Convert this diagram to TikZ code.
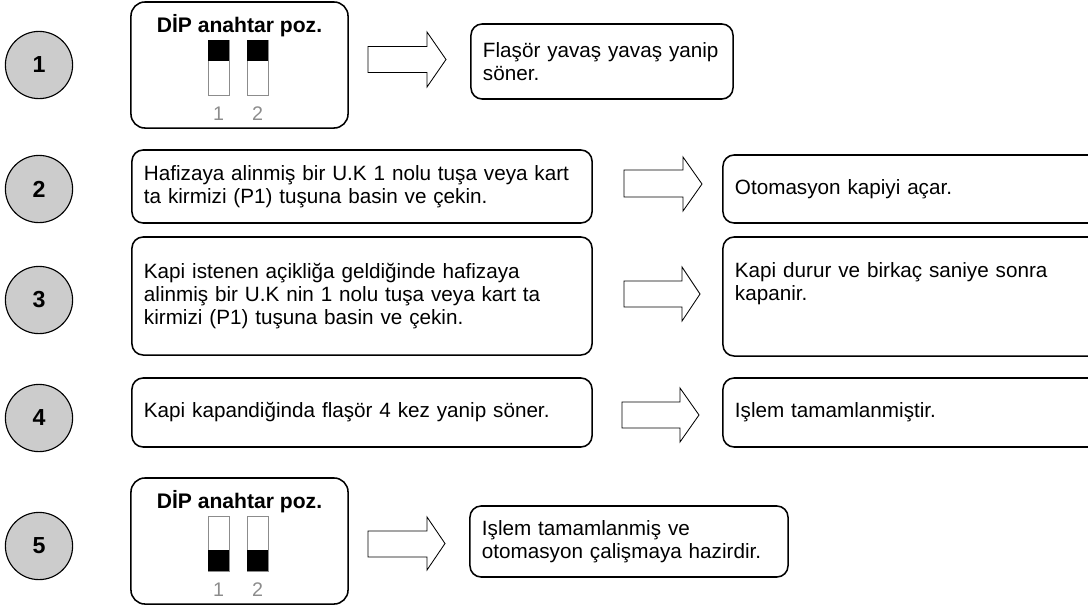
\documentclass[tikz,border=0pt]{standalone}
\usepackage{fontspec}
\setmainfont{Liberation Sans}
\definecolor{numgray}{HTML}{CCCCCC}
\definecolor{swgray}{HTML}{8C8C8C}
\tikzset{
  stepnum/.style={circle,draw,line width=0.8pt,fill=numgray,minimum size=1.68cm,inner sep=0pt,font=\fontsize{16.5}{16.5}\selectfont\bfseries},
  infobox/.style={draw,line width=1.1pt,rounded corners=0.28cm,align=left,inner xsep=0.3cm,inner ysep=0pt,font=\fontsize{14.7}{16.2}\selectfont},
  dipbox/.style={draw,line width=1.1pt,rounded corners=0.35cm,minimum width=5.425cm,minimum height=3.15cm},
  diptitle/.style={inner sep=0pt,font=\fontsize{15}{15}\selectfont\bfseries},
  swnum/.style={inner sep=0pt,text=swgray,font=\fontsize{14}{14}\selectfont},
  dipsw/.style={draw=swgray,line width=0.6pt,fill=white},
  blockarrow/.style={draw,line width=0.6pt,fill=white}
}
\begin{document}
\begin{tikzpicture}[x=0.025cm,y=-0.025cm]
          \useasboundingbox (0,0) rectangle (1088,608);
          % step numbers
          \node[stepnum] (n1) at (39,65) {1};
          \node[stepnum] (n2) at (39,189) {2};
          \node[stepnum] (n3) at (39,300) {3};
          \node[stepnum] (n4) at (39,418) {4};
          \node[stepnum] (n5) at (39,546) {5};
          % dip switch boxes
          \node[dipbox] (dip1) at (239.5,65) {};
          \node[diptitle] (dipt1) at (239.5,26) {DİP anahtar poz.};
          \draw[dipsw] (208,40) rectangle (229,95);
          \fill (208,40) rectangle (229,61);
          \draw[dipsw] (247,40) rectangle (268,95);
          \fill (247,40) rectangle (268,61);
          \node[swnum] (sw11) at (218.5,113.5) {1};
          \node[swnum] (sw12) at (257.5,113.5) {2};
          \node[dipbox] (dip5) at (239.5,541) {};
          \node[diptitle] (dipt5) at (239.5,502) {DİP anahtar poz.};
          \draw[dipsw] (208,516) rectangle (229,571);
          \fill (208,550) rectangle (229,571);
          \draw[dipsw] (247,516) rectangle (268,571);
          \fill (247,550) rectangle (268,571);
          \node[swnum] (sw51) at (218.5,589.5) {1};
          \node[swnum] (sw52) at (257.5,589.5) {2};
          % left boxes
          \node[infobox,text width=10.9cm,minimum height=1.825cm] (act2) at (362,186.5) {Hafizaya alinmiş bir U.K 1 nolu tuşa veya kart\\ta kirmizi (P1) tuşuna basin ve çekin.};
          \node[infobox,text width=10.9cm,minimum height=2.95cm] (act3) at (362,296) {Kapi istenen açikliğa geldiğinde hafizaya\\alinmiş bir U.K nin 1 nolu tuşa veya kart ta\\kirmizi (P1) tuşuna basin ve çekin.};
          \node[infobox,text width=10.9cm,minimum height=1.725cm] (act4) at (362,412.5) {Kapi kapandiğinda flaşör 4 kez yanip söner.};
          % right boxes
          \node[infobox,text width=5.95cm,minimum height=1.875cm] (res1) at (602,61.5) {Flaşör yavaş yavaş yanip\\söner.};
          \node[infobox,text width=8.825cm,minimum height=1.7cm] (res2) at (911.5,189) {Otomasyon kapiyi açar.};
          \node[infobox,text width=8.825cm,minimum height=2.975cm] (res3) at (911.5,296.5) {Kapi durur ve birkaç saniye sonra\\kapanir.\\ \strut};
          \node[infobox,text width=8.825cm,minimum height=1.725cm] (res4) at (911.5,412.5) {Işlem tamamlanmiştir.};
          \node[infobox,text width=7.35cm,minimum height=1.775cm] (res5) at (629,541.5) {Işlem tamamlanmiş ve\\otomasyon çalişmaya hazirdir.};
          % five block arrows
          \draw[blockarrow] (368,46.5) -- (427,46.5) -- (427,32) -- (446,59.5) -- (427,87) -- (427,72.5) -- (368,72.5) -- cycle;
          \draw[blockarrow] (624,170) -- (683,170) -- (683,157) -- (702,184) -- (683,211) -- (683,197) -- (624,197) -- cycle;
          \draw[blockarrow] (624,281) -- (682,281) -- (682,267) -- (700,294) -- (682,321) -- (682,307) -- (624,307) -- cycle;
          \draw[blockarrow] (622,402) -- (680,402) -- (680,388) -- (699,415) -- (680,442) -- (680,428) -- (622,428) -- cycle;
          \draw[blockarrow] (368,531) -- (427,531) -- (427,517) -- (445,543.5) -- (427,570) -- (427,557) -- (368,557) -- cycle;
        \end{tikzpicture}
\end{document}
